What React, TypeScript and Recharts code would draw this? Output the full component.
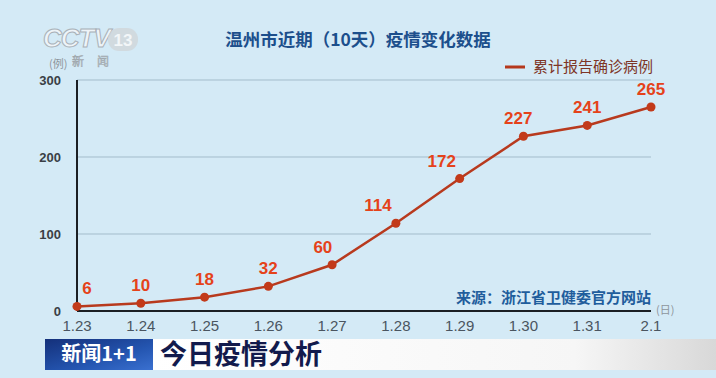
import React from "react";
import {
  LineChart,
  Line,
  XAxis,
  YAxis,
  CartesianGrid,
  LabelList,
} from "recharts";

const dates = ["1.23", "1.24", "1.25", "1.26", "1.27", "1.28", "1.29", "1.30", "1.31", "2.1"];
const cases = [6, 10, 18, 32, 60, 114, 172, 227, 241, 265];
const yTicks = [0, 100, 200, 300];

const title = "温州市近期（10天）疫情变化数据";
const seriesName = "累计报告确诊病例";
const sourceText = "来源：浙江省卫健委官方网站";
const bannerTag = "新闻1+1";
const bannerTitle = "今日疫情分析";

const data = dates.map((d, i) => ({ date: d, value: cases[i] }));

const FONT = "'Liberation Sans', Arial, 'Noto Sans CJK SC', sans-serif";
const CJK = "'Noto Sans CJK SC', 'Liberation Sans', sans-serif";

const renderLabel = (props: any) => {
  const { x, y, value, index } = props;
  const prev = cases[Math.max(0, index - 1)];
  const next = cases[Math.min(cases.length - 1, index + 1)];
  const slope = (next - prev) * 0.385;
  let dx = 0;
  if (index === 0) dx = 10;
  else if (slope > 20) dx = -Math.min(18, (slope - 20) * 0.8);
  return (
    <text
      x={x + dx}
      y={y - 12}
      textAnchor="middle"
      fill="#e5421a"
      fontFamily={FONT}
      fontWeight="bold"
      fontSize={17}
    >
      {value}
    </text>
  );
};

export default function App() {
  return (
    <div
      style={{
        position: "absolute",
        left: 0,
        top: 0,
        width: 716,
        height: 378,
        background: "#d4eaf6",
        overflow: "hidden",
      }}
    >
      <LineChart
        width={716}
        height={378}
        data={data}
        margin={{ top: 80, right: 65, bottom: 39, left: 17 }}
      >
        <CartesianGrid horizontal vertical={false} stroke="#a3bccb" strokeWidth={1} />
        <XAxis
          dataKey="date"
          axisLine={{ stroke: "#1b1f24", strokeWidth: 2 }}
          tickLine={false}
          height={28}
          tickMargin={3}
          tick={{ fill: "#4a5560", fontSize: 15, fontFamily: FONT }}
          interval={0}
        />
        <YAxis
          domain={[0, 300]}
          ticks={yTicks}
          width={60}
          axisLine={{ stroke: "#1b1f24", strokeWidth: 2 }}
          tickLine={false}
          tickMargin={10}
          tick={{ fill: "#3a3f45", fontSize: 13, fontWeight: "bold", fontFamily: FONT }}
        />
        <Line
          dataKey="value"
          name={seriesName}
          stroke="#b83a1e"
          strokeWidth={2.5}
          dot={{ r: 4.5, fill: "#c23a1a", stroke: "#c23a1a", strokeWidth: 0 }}
          isAnimationActive={false}
        >
          <LabelList dataKey="value" content={renderLabel} />
        </Line>
      </LineChart>

      <svg
        width={716}
        height={378}
        style={{ position: "absolute", left: 0, top: 0, pointerEvents: "none" }}
      >
        <defs>
          <linearGradient id="tagGrad" x1="0" y1="0" x2="1" y2="1">
            <stop offset="0" stopColor="#14307a" />
            <stop offset="0.6" stopColor="#2455b0" />
            <stop offset="1" stopColor="#3a70d0" />
          </linearGradient>
          <linearGradient id="barGrad" x1="0" y1="0" x2="1" y2="0">
            <stop offset="0" stopColor="#ffffff" />
            <stop offset="0.75" stopColor="#f6f6f6" />
            <stop offset="1" stopColor="#d8d8d8" />
          </linearGradient>
        </defs>

        {/* CCTV logo watermark */}
        <text x={43} y={47} fontFamily={FONT} fontWeight="bold" fontStyle="italic" fontSize={26}
          fill="#eef4f8" stroke="#a9b1b8" strokeWidth={1} letterSpacing={-1}>CCTV</text>
        <rect x={108} y={28} width={30} height={23} rx={11} fill="#d0d6da" opacity={0.8} />
        <text x={123} y={46} textAnchor="middle" fontFamily={FONT} fontWeight="bold" fontSize={17} fill="#f2f6f8">13</text>
        <text x={49} y={68} fontFamily={CJK} fontSize={11} fill="#8d959c">(例)</text>
        <text x={72} y={66} fontFamily={CJK} fontSize={12} fill="#b7bec4" stroke="#9aa2a8" strokeWidth={0.4}>新</text>
        <text x={97} y={66} fontFamily={CJK} fontSize={12} fill="#b7bec4" stroke="#9aa2a8" strokeWidth={0.4}>闻</text>

        {/* Title */}
        <text x={358} y={46} textAnchor="middle" fontFamily={CJK} fontWeight="bold" fontSize={17.5} fill="#1c4f8c">
          {title}
        </text>

        {/* Legend */}
        <line x1={505} y1={67} x2={525} y2={67} stroke="#b5381c" strokeWidth={3} />
        <text x={533} y={72} fontFamily={CJK} fontSize={15} fill="#7e3526">{seriesName}</text>

        {/* Source */}
        <text x={651} y={303} textAnchor="end" fontFamily={CJK} fontWeight="bold" fontSize={15} fill="#1f5d9c">
          {sourceText}
        </text>

        {/* (日) */}
        <text x={656} y={314} fontFamily={CJK} fontSize={11} fill="#8d959c">(日)</text>

        {/* Bottom banner */}
        <rect x={153} y={339} width={563} height={31} fill="url(#barGrad)" />
        <rect x={45} y={339} width={108} height={31} fill="url(#tagGrad)" />
        <text x={99} y={361} textAnchor="middle" fontFamily={CJK} fontWeight="bold" fontSize={20} fill="#ffffff">
          {bannerTag}
        </text>
        <text x={160} y={364} fontFamily={CJK} fontWeight="bold" fontSize={27} fill="#121a4c">
          {bannerTitle}
        </text>
      </svg>
    </div>
  );
}
